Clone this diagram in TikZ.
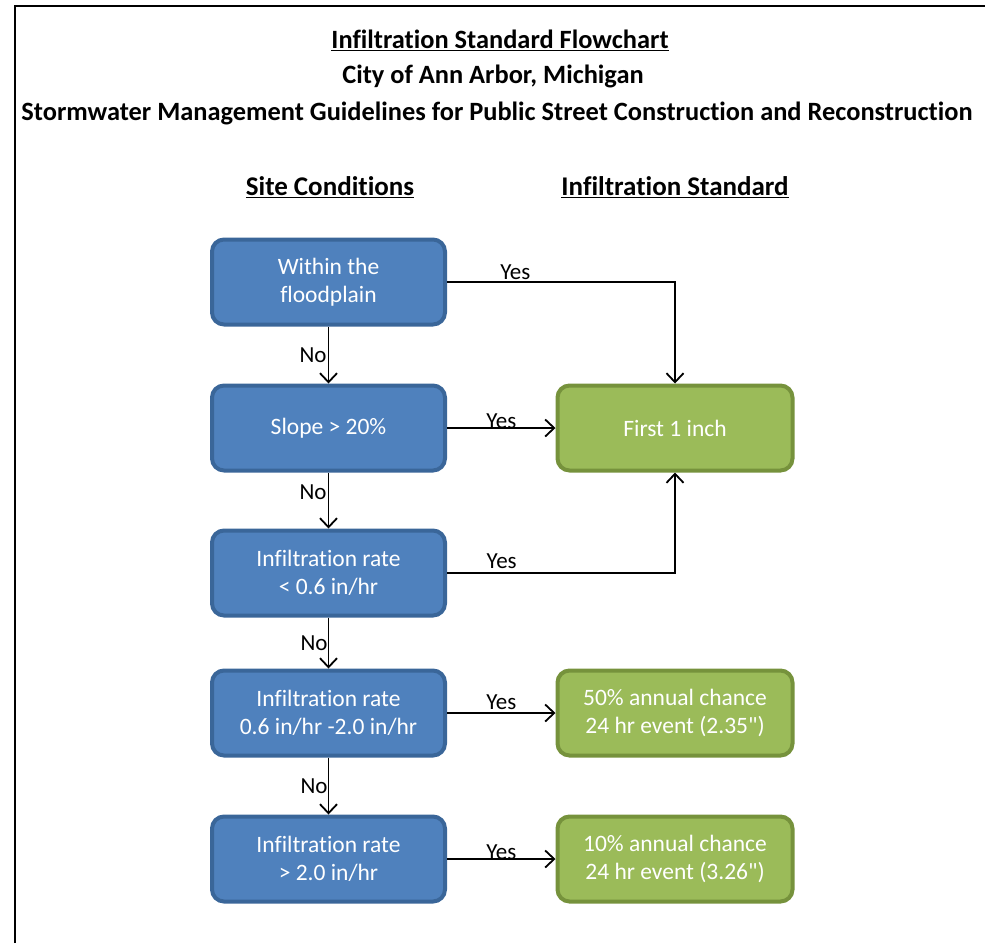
\documentclass[tikz,border=0pt]{standalone}
\usepackage{fontspec}
\setmainfont[Ligatures={NoCommon,TeXOff}]{Carlito}
\usetikzlibrary{arrows.meta}
\definecolor{bfill}{HTML}{4F81BD}
\definecolor{bdraw}{HTML}{3A6699}
\definecolor{gfill}{HTML}{9BBB59}
\definecolor{gdraw}{HTML}{76923C}
\begin{document}
\begin{tikzpicture}[x=1pt,y=-1pt,
  bluebox/.style={draw=bdraw, fill=bfill, line width=4pt, rounded corners=12pt,
    minimum width=233pt, minimum height=85pt, text=white, align=center,
    font=\fontsize{23.5}{28}\selectfont},
  greenbox/.style={draw=gdraw, fill=gfill, line width=4pt, rounded corners=12pt,
    minimum width=235pt, minimum height=85pt, text=white, align=center,
    font=\fontsize{23.5}{28}\selectfont},
  conn/.style={line width=1.8pt, -{Straight Barb[length=9pt,width=17pt,line width=1.8pt]}},
  lbl/.style={font=\fontsize{23}{26}\selectfont, inner sep=1pt},
  ttl/.style={font=\bfseries\fontsize{26.4}{30}\selectfont},
  hdr/.style={font=\bfseries\fontsize{27}{30}\selectfont}]
\useasboundingbox (0,0) rectangle (985,943);
\draw[line width=2.5pt] (15,943) -- (15,6) -- (985,6);

\node[ttl] (t1) at (500,40) {\underline{Infiltration Standard Flowchart}};
\node[ttl] (t2) at (493,76) {City of Ann Arbor, Michigan};
\node[ttl] (t3) at (497,113) {Stormwater Management Guidelines for Public Street Construction and Reconstruction};
\node[hdr] (h1) at (330,187) {\underline{Site Conditions}};
\node[hdr] (h2) at (675,187) {\underline{Infiltration Standard}};

\node[bluebox] (b1) at (328.5,282) {Within the\\floodplain};
\node[bluebox] (b2) at (328.5,428) {Slope > 20\%};
\node[bluebox] (b3) at (328.5,573) {Infiltration rate\\< 0.6 in/hr};
\node[bluebox] (b4) at (328.5,713) {Infiltration rate\\0.6 in/hr -2.0 in/hr};
\node[bluebox] (b5) at (328.5,859) {Infiltration rate\\> 2.0 in/hr};

\node[greenbox] (g1) at (675,428) {First 1 inch};
\node[greenbox] (g2) at (675,713) {50\% annual chance\\24 hr event (2.35")};
\node[greenbox] (g3) at (675,859) {10\% annual chance\\24 hr event (3.26")};

\draw[conn] (b1.east) -| node[lbl, pos=0.15, anchor=south] {Yes} (g1.north);
\draw[conn] (b2.east) -- node[lbl, pos=0.5, anchor=south, yshift=-3pt] {Yes} (g2.west |- b2.east);
\draw[conn] (b3.east) -| node[lbl, pos=0.12, anchor=south, yshift=2pt] {Yes} (g1.south);
\draw[conn] (b4.east) -- node[lbl, pos=0.5, anchor=south, yshift=1pt] {Yes} (g2.west);
\draw[conn] (b5.east) -- node[lbl, pos=0.5, anchor=south, yshift=-3pt] {Yes} (g3.west);

\draw[conn] (b1.south) -- node[lbl, pos=0.5, anchor=east] {No} (b2.north);
\draw[conn] (b2.south) -- node[lbl, pos=0.35, anchor=east] {No} (b3.north);
\draw[conn] (b3.south) -- node[lbl, pos=0.5, anchor=east, inner sep=0pt] {No} (b4.north);
\draw[conn] (b4.south) -- node[lbl, pos=0.5, anchor=east, inner sep=0pt] {No} (b5.north);
\end{tikzpicture}
\end{document}
